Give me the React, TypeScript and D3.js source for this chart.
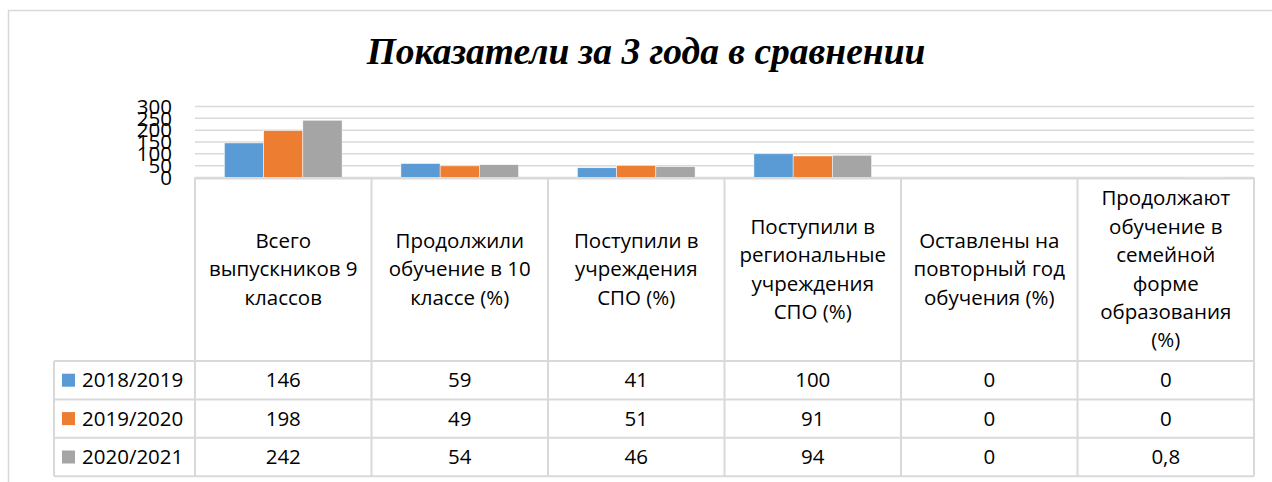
import React from "react";
import * as d3 from "d3";

const categories: string[][] = [
  ["Всего", "выпускников 9", "классов"],
  ["Продолжили", "обучение в 10", "классе (%)"],
  ["Поступили в", "учреждения", "СПО (%)"],
  ["Поступили в", "региональные", "учреждения", "СПО (%)"],
  ["Оставлены на", "повторный год", "обучения (%)"],
  ["Продолжают", "обучение в", "семейной", "форме", "образования", "(%)"],
];
const seriesNames = ["2018/2019", "2019/2020", "2020/2021"];
const values2018 = [146, 59, 41, 100, 0, 0];
const values2019 = [198, 49, 51, 91, 0, 0];
const values2020 = [242, 54, 46, 94, 0, 0.8];
const yTicks = [0, 50, 100, 150, 200, 250, 300];
const colors = ["#5B9BD5", "#ED7D31", "#A5A5A5"];
const title = "Показатели за 3 года в сравнении";

const W = 1272;
const H = 482;
const plotL = 195;
const plotR = 1254;
const yBottom = 177.5;
const yTop = 106.5;
const headerBottom = 361;
const rowH = 38.4;
const legendL = 54;
const font = "'Open Sans', sans-serif";
const fs = 20.5;
const grid = "#D9D9D9";

const fmt = (v: number) => d3.format("~g")(v).replace(".", ",");

export default function App() {
  const series = [values2018, values2019, values2020];
  const idx = categories.map((_, i) => String(i));
  const x = d3.scaleBand<string>().domain(idx).range([plotL, plotR]);
  const bw = x.bandwidth();
  const xs = d3
    .scaleBand<string>()
    .domain(seriesNames)
    .range([0, bw])
    .paddingInner(0)
    .paddingOuter(0.75);
  const y = d3.scaleLinear().domain([0, 300]).range([yBottom, yTop]);
  const tableBottom = headerBottom + rowH * seriesNames.length;
  const lineH = 28.4;
  const headerMid = (yBottom + headerBottom) / 2;
  const colEdges = idx.map((k) => x(k)!).concat([plotR]);

  return (
    <svg width={W} height={H} style={{ display: "block", position: "absolute", left: 0, top: 0 }}>
      <rect x={0} y={0} width={W} height={H} fill="#fff" />
      <rect x={8.5} y={10.5} width={W + 20} height={H + 20} fill="none" stroke={grid} strokeWidth={1.5} />
      <text
        x={646}
        y={64}
        textAnchor="middle"
        fontFamily="'Liberation Serif', 'Times New Roman', serif"
        fontWeight="bold"
        fontStyle="italic"
        fontSize={37.5}
        fill="#000"
      >
        {title}
      </text>
      {yTicks.map((t) => (
        <g key={t}>
          <line x1={plotL} x2={plotR} y1={y(t)} y2={y(t)} stroke={grid} strokeWidth={1.5} />
          <text
            x={172}
            y={y(t)}
            dy="0.35em"
            textAnchor="end"
            fontFamily={font}
            fontSize={fs}
            fill="#000"
          >
            {t}
          </text>
        </g>
      ))}
      {series.map((vals, si) =>
        vals.map((v, ci) => (
          <rect
            key={`${si}-${ci}`}
            x={x(String(ci))! + xs(seriesNames[si])!}
            y={y(v)}
            width={xs.bandwidth()}
            height={yBottom - y(v)}
            fill={colors[si]}
            stroke="#fff"
            strokeWidth={0.5}
          />
        ))
      )}
      {/* table */}
      <line x1={plotL} x2={plotR} y1={yBottom + 1} y2={yBottom + 1} stroke={grid} strokeWidth={2} />
      {colEdges.map((cx, i) => (
        <line key={i} x1={cx} x2={cx} y1={yBottom} y2={tableBottom} stroke={grid} strokeWidth={2} />
      ))}
      <line x1={legendL} x2={legendL} y1={headerBottom} y2={tableBottom} stroke={grid} strokeWidth={2} />
      {d3.range(seriesNames.length + 1).map((r) => (
        <line
          key={r}
          x1={legendL}
          x2={plotR}
          y1={headerBottom + r * rowH}
          y2={headerBottom + r * rowH}
          stroke={grid}
          strokeWidth={2}
        />
      ))}
      {categories.map((lines, ci) => {
        const cx = x(String(ci))! + bw / 2;
        const start = headerMid - ((lines.length - 1) * lineH) / 2;
        return (
          <text key={ci} textAnchor="middle" fontFamily={font} fontSize={fs} fill="#000">
            {lines.map((l, li) => (
              <tspan key={li} x={cx} y={start + li * lineH} dy="0.35em">
                {l}
              </tspan>
            ))}
          </text>
        );
      })}
      {seriesNames.map((name, si) => {
        const cy = headerBottom + si * rowH + rowH / 2;
        return (
          <g key={name}>
            <rect x={62} y={cy - 6.5} width={13} height={13} fill={colors[si]} />
            <text x={82} y={cy} dy="0.35em" fontFamily={font} fontSize={fs} fill="#000">
              {name}
            </text>
            {series[si].map((v, ci) => (
              <text
                key={ci}
                x={x(String(ci))! + bw / 2}
                y={cy}
                dy="0.35em"
                textAnchor="middle"
                fontFamily={font}
                fontSize={fs}
                fill="#000"
              >
                {fmt(v)}
              </text>
            ))}
          </g>
        );
      })}
    </svg>
  );
}
